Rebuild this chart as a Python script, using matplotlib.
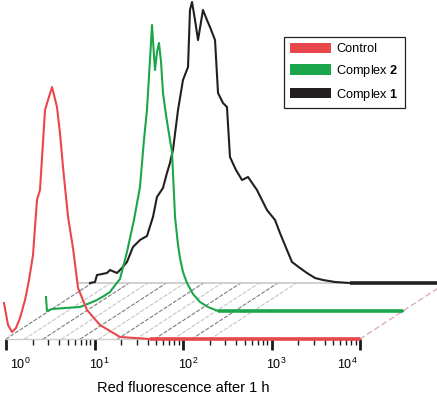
#!/usr/bin/env python3
# -*- coding:utf-8 -*-

import numpy as np
import matplotlib
matplotlib.use('Agg')
import matplotlib.pyplot as plt
from matplotlib import transforms
from matplotlib.patches import ConnectionPatch, Patch


plt.rcParams['font.family'] = ['Liberation Sans', 'DejaVu Sans']
plt.rcParams['mathtext.fontset'] = 'custom'
plt.rcParams['mathtext.rm'] = 'Liberation Sans'
plt.rcParams['mathtext.bf'] = 'Liberation Sans:bold'
plt.rcParams['mathtext.it'] = 'Liberation Sans:italic'


## * Data (log10 of red fluorescence, cell counts) *
control_log = [-0.023, 0.023, 0.068, 0.113, 0.158, 0.215, 0.260, 0.305, 0.350, 0.384,
               0.441, 0.475, 0.520, 0.576, 0.610, 0.644, 0.701, 0.757, 0.814, 0.915,
               1.062, 1.288, 1.627, 4.0]
control_counts = [36, 14, 7, 11, 21, 39, 59, 84, 139, 149,
                  229, 239, 252, 232, 206, 172, 122, 91, 51, 29,
                  14, 2, 0, 0]

complex2_log = [-0.034, -0.023, 0.034, 0.181, 0.350, 0.463, 0.542, 0.621, 0.689, 0.757,
                0.802, 0.881, 0.960, 1.028, 1.073, 1.107, 1.141, 1.164, 1.186, 1.198,
                1.220, 1.243, 1.266, 1.288, 1.322, 1.367, 1.390, 1.424, 1.458, 1.480,
                1.514, 1.559, 1.627, 1.706, 1.797, 1.910, 4.0]
complex2_counts = [14, 0, 2, 3, 4, 8, 11, 15, 19, 27,
                   32, 59, 91, 124, 171, 201, 251, 286, 256, 241,
                   259, 268, 249, 218, 196, 171, 159, 94, 66, 53,
                   39, 28, 17, 9, 4, 0, 0]

complex1_log = [-0.023, 0.034, 0.056, 0.169, 0.203, 0.282, 0.339, 0.395, 0.463, 0.542,
                0.621, 0.689, 0.734, 0.802, 0.847, 0.881, 0.915, 0.972, 1.028, 1.085,
                1.107, 1.130, 1.164, 1.198, 1.254, 1.299, 1.333, 1.390, 1.424, 1.480,
                1.525, 1.559, 1.627, 1.695, 1.763, 1.864, 1.977, 2.068, 2.124, 2.203,
                2.260, 2.350, 2.429, 2.520, 2.610, 2.746, 2.915, 4.0]
complex1_counts = [0, 1, 8, 10, 13, 10, 15, 21, 36, 43,
                   47, 66, 86, 95, 110, 120, 133, 173, 203, 216,
                   273, 281, 263, 243, 273, 263, 256, 243, 190, 180,
                   176, 126, 113, 103, 106, 93, 73, 63, 50, 33,
                   21, 15, 10, 5, 3, 1, 0, 0]

labels = ['Control', r'Complex $\mathbf{2}$', r'Complex $\mathbf{1}$']
colors = ['#e8484c', '#1ca64b', '#231f20']

## layer offset of the pseudo 3D stack (inches, at 100 dpi)
STEP_DX = 0.43
STEP_DY = 0.28


def layer_transform(ax, k):
    offset = transforms.ScaledTranslation(k * STEP_DX, k * STEP_DY, ax.figure.dpi_scale_trans)
    return ax.transData + offset


def plot_trace(ax, log_x, counts, color, k):
    trans = layer_transform(ax, k)
    x = 10 ** np.array(log_x)
    y = np.array(counts)
    ax.plot(x, y, color=color, lw=1.5, transform=trans, clip_on=False, zorder=5 - k)
    ## flat tail drawn a bit heavier
    ax.plot(x[-2:], y[-2:], color=color, lw=2.6, transform=trans, clip_on=False,
            solid_capstyle='butt', zorder=5 - k)


def floor_line(ax, x, k0, k1, **kwargs):
    con = ConnectionPatch(xyA=(x, 0), coordsA=layer_transform(ax, k0),
                          xyB=(x, 0), coordsB=layer_transform(ax, k1),
                          clip_on=False, zorder=1, **kwargs)
    ax.add_artist(con)


## MAIN ##
if __name__ == "__main__":

    fig = plt.figure(figsize=(4.37, 3.94), dpi=100)
    ax = fig.add_axes([0, 55 / 394, 1, 339 / 394])

    ax.set_xscale('log')
    ax.set_xlim(10 ** (-6 / 88.5), 10 ** (431 / 88.5))
    ax.set_ylim(0, 339)

    for side in ('left', 'top', 'right'):
        ax.spines[side].set_visible(False)
    ax.spines['bottom'].set_bounds(1, 1e4)
    ax.spines['bottom'].set_color('#cccccc')
    ax.spines['bottom'].set_linewidth(1.0)
    ax.set_yticks([])

    ## * floor of the stack *
    for i, e in enumerate(np.arange(0, 2.45, 0.21)):
        c = '#7c7c7c' if i % 2 == 0 else '#c4c4c4'
        floor_line(ax, 10 ** e, 0, 2, color=c, lw=0.8, linestyle=(0, (3, 2)))
    floor_line(ax, 1e4, 0, 2, color='#d9a6b6', lw=0.9, linestyle=(0, (4, 3)))
    ax.plot([10 ** -0.17, 1e4], [0, 0], color='#c8c8c8', lw=1.2, transform=layer_transform(ax, 2),
            clip_on=False, zorder=1)

    ## * traces, back to front *
    plot_trace(ax, complex1_log, complex1_counts, colors[2], 2)
    plot_trace(ax, complex2_log, complex2_counts, colors[1], 1)
    plot_trace(ax, control_log, control_counts, colors[0], 0)

    ## * ticks *
    major = [1, 10, 100, 1000, 10000]
    ax.set_xticks(major, labels=[r'$\mathregular{10^{%d}}$' % e for e in range(5)])
    ax.set_xticks([m * 10 ** d for d in range(4) for m in range(2, 10)], minor=True)
    ax.tick_params(axis='x', which='major', length=8, width=2.0, color='#1a1a1a',
                   labelsize=9, pad=5)
    ax.tick_params(axis='x', which='minor', length=4.3, width=1.0, color='#1a1a1a')

    tls = ax.get_xticklabels()
    for j, t in enumerate(tls):
        if j == 0:
            t.set_ha('left')
            dx = 4
        elif j == len(tls) - 1:
            t.set_ha('right')
            dx = -2
        else:
            dx = 5
        t.set_transform(t.get_transform() + transforms.ScaledTranslation(dx / 100, 0, fig.dpi_scale_trans))

    ax.set_xlabel('Red fluorescence after 1 h', fontsize=10.5)
    ax.xaxis.set_label_coords(183 / 437, (6 - 55) / 339)
    ax.xaxis.label.set_va('center')

    ## * legend *
    handles = [Patch(facecolor=c, edgecolor='none') for c in colors]
    leg = ax.legend(handles, labels, loc='upper left',
                    bbox_to_anchor=(284 / 437, (394 - 37) / 394), bbox_transform=fig.transFigure,
                    borderaxespad=0, fontsize=9.2, handlelength=3.2, handleheight=0.85,
                    handletextpad=0.45, labelspacing=0.6, borderpad=0.45,
                    fancybox=False, framealpha=1, edgecolor='#222222')
    leg.get_frame().set_linewidth(0.9)

    fig.savefig('out.png', dpi=100)
